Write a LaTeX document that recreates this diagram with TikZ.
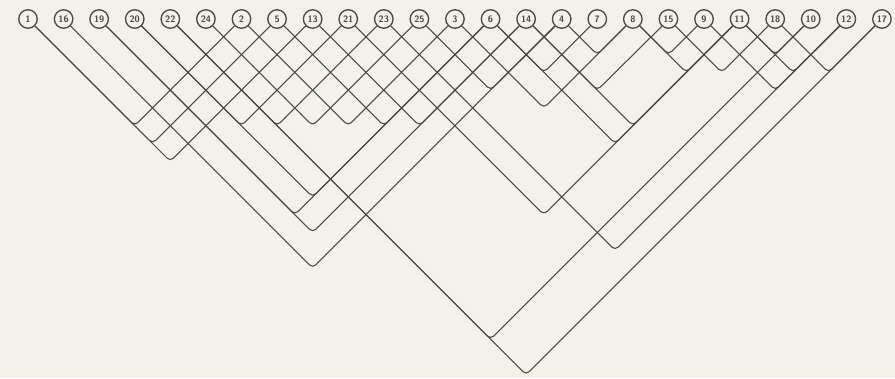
\documentclass[tikz,border=0pt]{standalone}
\usepackage{tikz}
\usepackage{xcolor}
\usetikzlibrary{calc}
\definecolor{paperBg}{HTML}{F4F1E8}
\definecolor{inkLine}{HTML}{4A4846}

\begin{document}
\begin{tikzpicture}[
    leaf/.style={draw=inkLine, line width=0.75pt, circle, fill=paperBg,
      minimum size=3.7mm, inner sep=0pt, text=inkLine,
      font=\sffamily\bfseries\fontsize{5.3}{6}\selectfont},
    vline/.style={draw=inkLine, line width=0.6pt, rounded corners=2.5pt},
  ]
  \fill[paperBg] (0,0) rectangle (17.9,-7.56);
  \useasboundingbox (0,0) rectangle (17.9,-7.56);
  % leaves, left to right
  \foreach \lab [count=\i from 0] in {1,16,19,20,22,24,2,5,13,21,23,25,3,6,14,4,7,8,15,9,11,18,10,12,17}{
    \node[leaf] (n\lab) at (0.56+\i*0.7116, -0.38) {\lab};
  }
  % pairs joined by a V
  \foreach \a/\b in {1/2, 1/5, 1/13, 16/4, 19/6, 19/14, 20/21, 20/6, 22/23, 22/10, 22/17,
                     24/25, 2/3, 5/6, 13/14, 21/11, 23/12, 25/4, 3/8, 6/7, 6/11,
                     14/15, 14/11, 4/8, 8/9, 8/11, 15/18, 9/12, 11/10, 11/12, 18/17}{
    \draw[vline] let \p1=(n\a), \p2=(n\b) in
      (n\a) -- ({(\x1+\x2)/2}, {\y1-(\x2-\x1)/2}) -- (n\b);
  }
\end{tikzpicture}
\end{document}
